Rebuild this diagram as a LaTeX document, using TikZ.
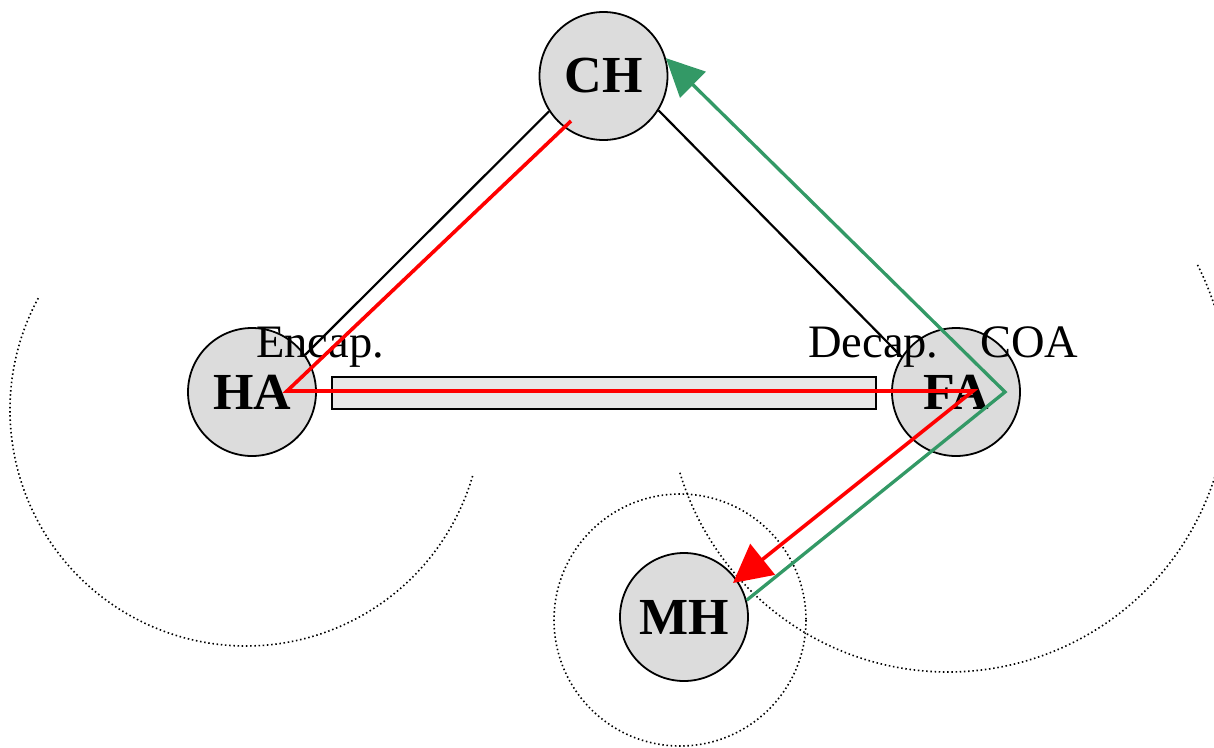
\documentclass[tikz,border=0pt]{standalone}
\usepackage{fontspec}
\setmainfont{Liberation Serif}
\usetikzlibrary{arrows.meta,calc}
\definecolor{nodegray}{RGB}{220,220,220}
\definecolor{barfill}{RGB}{232,232,232}
\definecolor{pathgreen}{RGB}{51,153,102}
\definecolor{pathred}{RGB}{255,0,0}

\begin{document}
\begin{tikzpicture}[x=1pt,y=-1pt,
  site/.style={circle, draw=black, line width=1.8pt, fill=nodegray,
    minimum size=128pt, inner sep=0pt,
    font=\fontsize{52}{52}\selectfont\bfseries},
  tag/.style={font=\fontsize{46.5}{46.5}\selectfont, inner sep=0pt, anchor=base west},
  link/.style={draw=black, line width=2.2pt},
  channel/.style={draw=black, line width=1.8pt, fill=barfill, rectangle,
    minimum width=544pt, minimum height=32pt, inner sep=0pt},
  zone/.style={draw=black, line width=1.6pt, dash pattern=on 1.5pt off 2.7pt},
  redpath/.style={draw=pathred, line width=3.6pt},
  greenpath/.style={draw=pathgreen, line width=3.3pt},
]
\useasboundingbox (0,0) rectangle (1214,747);

% dotted ranges
\draw[zone] (246,410) ++(208.3:236) arc[start angle=208.3, end angle=15.8, radius=236];
\draw[zone] (948,392) ++(-27:280) arc[start angle=-27, end angle=163.3, radius=280];
\draw[zone] (680,620) circle[radius=126];

% sites
\node[site] (CH) at (603.5,76) {CH};
\node[site] (HA) at (252,392) {HA};
\node[site] (FA) at (956,392) {FA};
\node[site] (MH) at (684,617) {MH};

% links between sites
\draw[link] (CH.213) -- (HA.35);
\draw[link] (CH.328) -- (FA.147);
\draw[link] (HA.east) -- (FA.west);
\node[channel] (bar) at (604,393) {};

% labels
\node[tag] (encap) at (256,357) {Encap.};
\node[tag] (decap) at (808,357) {Decap.};
\node[tag] (coa) at (980,357) {COA};

% red route
\coordinate (rCH) at ($(CH)+(-32.5,45)$);
\coordinate (rHA) at ($(HA)+(35,-1)$);
\coordinate (rFA) at ($(FA)+(17,-1)$);
\coordinate (rMH) at ($(MH)+(49,-34)$);
\draw[redpath, -{Triangle[length=38pt,width=39pt]}] (rCH) -- (rHA) -- (rFA) -- (rMH);

% green route
\coordinate (gFA) at ($(FA)+(49,0)$);
\draw[greenpath, -{Triangle[length=38pt,width=36pt]}] (MH.15) -- (gFA) -- (CH.16);
\end{tikzpicture}
\end{document}
